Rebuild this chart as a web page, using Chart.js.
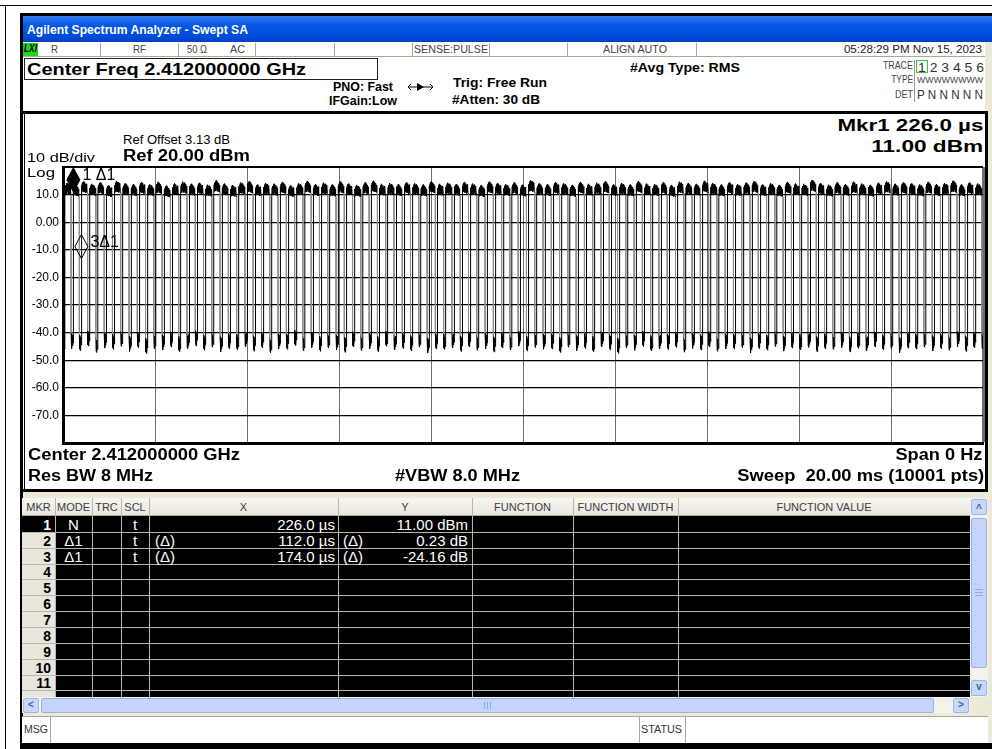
<!DOCTYPE html>
<html>
<head>
<meta charset="utf-8">
<title>Swept SA</title>
<script src="https://cdn.jsdelivr.net/npm/chart.js@4.4.1/dist/chart.umd.min.js"></script>
<style>
  body { margin: 0; width: 992px; height: 749px; position: relative; overflow: hidden; background: #fff; font-family: "Liberation Sans", Arial, sans-serif; }
  .box { position: absolute; box-sizing: border-box; }
  #plotWrap { position: absolute; left: 20px; top: 155px; width: 968px; height: 302px; }
</style>
</head>
<body>
<!-- outer frame and window -->
<div class="box" style="left:0;top:5px;width:992px;height:1px;background:#000"></div>
<div class="box" style="left:5px;top:5px;width:1px;height:744px;background:#000"></div>
<div class="box" style="left:20px;top:13px;width:972px;height:736px;background:#000"></div>
<div class="box" style="left:23px;top:42px;width:969px;height:701px;background:#ece9d8"></div>
<div class="box" style="left:23px;top:16px;width:969px;height:26px;background:linear-gradient(#3a7cf2,#0a5ae6 30%,#004ddb 75%,#0040c4)"></div>

<!-- status row -->
<div class="box" style="left:23px;top:42px;width:962px;height:15px;background:#fff;border-bottom:1px solid #aca899"></div>
<div class="box" style="left:23px;top:43px;width:15px;height:13px;background:#1fd81f"></div>

<!-- header -->
<div class="box" style="left:23px;top:57px;width:962px;height:54px;background:#fff"></div>
<div class="box" style="left:24px;top:58px;width:354px;height:22px;border:1px solid #222;background:#fff"></div>
<div class="box" style="left:916px;top:60px;width:12px;height:13px;border:1px solid #3cc63c"></div>
<div class="box" style="left:914px;top:60px;width:1px;height:42px;background:#999"></div>
<svg class="box" style="left:407px;top:82px" width="27" height="10" viewBox="0 0 27 10">
  <line x1="1" y1="5" x2="26" y2="5" stroke="#000" stroke-width="1"/>
  <polygon points="10,1 17,5 10,9" fill="#000"/>
  <polyline points="4,2 1,5 4,8" fill="none" stroke="#000"/>
  <polyline points="23,2 26,5 23,8" fill="none" stroke="#000"/>
</svg>

<!-- plot panel -->
<div class="box" style="left:22px;top:111px;width:966px;height:381px;border:3px solid #000;background:#fff"></div>
<div class="box" style="left:23px;top:114px;width:1px;height:375px;background:#fff"></div>
<div id="plotWrap"><canvas id="saChart" width="968" height="302"></canvas></div>

<script>
// ---- trace data (time in µs, level in dBm) ----
const xGridUs = [0, 2000, 4000, 6000, 8000, 10000, 12000, 14000, 16000, 18000, 20000];
const yTickValues = [20, 10, 0, -10, -20, -30, -40, -50, -60, -70, -80];
const yTickLabels = ['', '10.0', '0.00', '-10.0', '-20.0', '-30.0', '-40.0', '-50.0', '-60.0', '-70.0', ''];

// rising edge of each burst
const riseUs = [
  40, 220, 400, 580, 760, 940, 1120, 1300, 1480, 1660,
  1840, 2020, 2200, 2380, 2560, 2740, 2920, 3100, 3280, 3460,
  3640, 3820, 4000, 4180, 4360, 4540, 4720, 4900, 5080, 5260,
  5440, 5620, 5800, 5980, 6160, 6340, 6520, 6700, 6880, 7060,
  7240, 7420, 7600, 7780, 7960, 8140, 8320, 8500, 8680, 8860,
  9040, 9220, 9400, 9580, 9760, 9940, 10120, 10300, 10480, 10660,
  10840, 11020, 11200, 11380, 11560, 11740, 11920, 12100, 12280, 12460,
  12640, 12820, 13000, 13180, 13360, 13540, 13720, 13900, 14080, 14260,
  14440, 14620, 14800, 14980, 15160, 15340, 15520, 15700, 15880, 16060,
  16240, 16420, 16600, 16780, 16960, 17140, 17320, 17500, 17680, 17860,
  18040, 18220, 18400, 18580, 18760, 18940, 19120, 19300, 19480, 19660,
  19840
];
const burstWidthUs = 135;

// highest point of each burst
const peakDbm = [
  14.2, 13.6, 14.8, 13.9, 14.4, 13.4, 14.9, 14.0, 13.7, 14.5,
  13.8, 14.6, 13.3, 14.1, 14.7, 13.9, 14.3, 13.6, 15.1, 14.0,
  13.5, 14.4, 14.8, 13.7, 14.2, 13.9, 14.6, 13.4, 14.1, 14.9,
  13.8, 14.3, 13.6, 14.7, 14.0, 13.5, 14.4, 15.0, 13.9, 14.2,
  13.7, 14.5, 14.1, 13.6, 14.8, 13.9, 14.3, 13.8, 14.6, 14.0,
  13.4, 14.7, 14.2, 13.8, 14.4, 13.6, 15.2, 14.0, 13.7, 14.5,
  14.1, 13.5, 14.6, 13.9, 14.3, 14.8, 13.7, 14.2, 13.6, 14.9,
  14.0, 13.8, 14.4, 13.5, 14.7, 14.1, 13.9, 15.0, 14.2, 13.6,
  14.5, 13.8, 14.3, 14.9, 13.7, 14.1, 13.5, 14.6, 14.0, 13.9,
  15.3, 14.2, 13.6, 14.4, 13.8, 14.7, 14.0, 13.5, 14.3, 14.8,
  13.9, 14.5, 14.1, 13.7, 14.6, 13.8, 14.2, 15.0, 13.6, 14.4,
  14.0
];

// lowest point of the gap after each burst
const floorDbm = [
  -45.8, -46.5, -44.9, -47.2, -45.6, -46.1, -45.0, -46.8, -45.4, -47.6,
  -45.9, -46.3, -45.2, -46.9, -45.7, -44.8, -46.4, -45.3, -47.0, -45.8,
  -46.2, -45.1, -46.7, -45.5, -47.3, -45.9, -46.0, -44.7, -46.6, -45.4,
  -46.8, -45.6, -46.3, -47.1, -45.2, -46.5, -45.8, -46.9, -45.0, -46.2,
  -45.7, -46.6, -45.3, -47.4, -45.9, -46.1, -45.5, -46.8, -45.2, -46.4,
  -45.8, -47.0, -45.6, -46.3, -44.9, -46.7, -45.4, -46.0, -45.9, -47.2,
  -45.3, -46.5, -45.7, -46.9, -45.1, -46.2, -47.5, -45.6, -46.4, -45.0,
  -46.6, -45.8, -46.1, -45.4, -47.1, -45.7, -46.3, -45.2, -46.8, -45.9,
  -46.0, -45.5, -47.3, -45.8, -46.4, -45.1, -46.7, -45.6, -46.2, -45.3,
  -46.9, -45.9, -46.1, -45.4, -47.0, -45.7, -46.5, -45.2, -46.3, -45.8,
  -47.2, -45.6, -46.0, -45.3, -46.6, -45.9, -46.4, -45.1, -46.8, -45.5,
  -45.9
];

// typical ripple on top of a burst / in the gap (read from one burst)
const topShapeUs = [0, 6, 13, 20, 27, 34, 41, 48, 55, 62, 69, 76, 83, 90, 97, 104, 111, 118, 125, 135];
const topShapeDb = [-4.6, -1.5, -4.0, -0.8, -3.6, -0.3, -3.8, 0, -3.2, -0.6, -3.9, -0.4, -3.4, -1.1, -4.1, -0.9, -3.7, -1.6, -4.2, -4.4];
const gapShapeUs = [0, 6, 12, 18, 24, 30, 36, 42];
const gapShapeDb = [5.5, 0.5, 4.5, 0, 4.0, 1.0, 5.0, 2.0];

// markers drawn on the trace
const markerTimesUs = [226, 400];
const markerLevels = [11.00, -13.16];
const markerLabels = ['1 Δ1', '3Δ1'];
const markerFilled = [true, false];

// marker table
const tableRows = ['1', '2', '3', '4', '5', '6', '7', '8', '9', '10', '11'];
const tableModes = ['N', 'Δ1', 'Δ1'];
const tableScl = ['t', 't', 't'];
const tableXRef = ['', '(Δ)', '(Δ)'];
const tableXVals = ['226.0 µs', '112.0 µs', '174.0 µs'];
const tableYRef = ['', '(Δ)', '(Δ)'];
const tableYVals = ['11.00 dBm', '0.23 dB', '-24.16 dB'];
const tableHeads = ['MKR', 'MODE', 'TRC', 'SCL', 'X', 'Y', 'FUNCTION', 'FUNCTION WIDTH', 'FUNCTION VALUE'];

// ---- build the trace ----
const trace = [{ x: 0, y: -44.0 }, { x: 20, y: -46.2 }];
riseUs.forEach((r, i) => {
  trace.push({ x: r, y: trace[trace.length - 1].y });
  topShapeUs.forEach((dt, k) => trace.push({ x: r + dt, y: peakDbm[i] + topShapeDb[k] }));
  const f = r + burstWidthUs;
  gapShapeUs.forEach((dt, k) => {
    if (f + dt <= 20000) trace.push({ x: f + dt, y: floorDbm[i] + gapShapeDb[k] });
  });
});
trace.push({ x: 20000, y: trace[trace.length - 1].y });

const markerPlugin = {
  id: 'markers',
  afterDatasetsDraw(chart) {
    const { ctx, scales } = chart;
    ctx.save();
    markerTimesUs.forEach((t, i) => {
      const px = scales.x.getPixelForValue(t);
      const py = scales.y.getPixelForValue(markerLevels[i]);
      ctx.beginPath();
      ctx.moveTo(px, py);
      ctx.lineTo(px + 6.5, py - 12);
      ctx.lineTo(px, py - 24);
      ctx.lineTo(px - 6.5, py - 12);
      ctx.closePath();
      ctx.lineWidth = 1;
      ctx.strokeStyle = '#000';
      if (markerFilled[i]) { ctx.fillStyle = '#000'; ctx.fill(); }
      ctx.stroke();
      ctx.fillStyle = '#000';
      ctx.font = '16px "Liberation Sans", Arial, sans-serif';
      ctx.textBaseline = 'middle';
      ctx.fillText(markerLabels[i], px + 9, py - 16);
    });
    ctx.restore();
  }
};

new Chart(document.getElementById('saChart'), {
  type: 'line',
  data: {
    datasets: [{
      data: trace,
      borderColor: '#000',
      borderWidth: 1,
      pointRadius: 0,
      tension: 0,
      segment: {
        borderColor: c => (c.p0.parsed.x === c.p1.parsed.x && c.p1.parsed.y < c.p0.parsed.y) ? '#8c8c8c' : '#000'
      }
    }]
  },
  options: {
    responsive: false,
    animation: false,
    events: [],
    layout: { padding: { top: 12, right: 5, bottom: 14, left: 0 } },
    plugins: { legend: { display: false }, tooltip: { enabled: false } },
    scales: {
      x: {
        type: 'linear', min: 0, max: 20000,
        afterBuildTicks: s => { s.ticks = xGridUs.map(v => ({ value: v })); },
        afterFit: s => { s.height = 0; },
        ticks: { display: false },
        grid: { color: '#6e6e6e', lineWidth: c => (c.tick && c.tick.value === 20000 ? 3 : 1), drawTicks: false },
        border: { color: '#000', width: 3 }
      },
      y: {
        type: 'linear', min: -80, max: 20,
        afterBuildTicks: s => { s.ticks = yTickValues.map(v => ({ value: v })); },
        afterFit: s => { s.width = 43; },
        ticks: {
          padding: 4, color: '#000',
          font: { family: 'Liberation Sans', size: 12 },
          callback: v => yTickLabels[yTickValues.indexOf(v)]
        },
        grid: { color: '#000', lineWidth: c => (c.tick && c.tick.value === 20 ? 2 : 1.3), drawTicks: false },
        border: { color: '#000', width: 3 }
      }
    }
  },
  plugins: [markerPlugin]
});

// ---- screen furniture ----
function rect(l, t, w, h, css) {
  const d = document.createElement('div');
  d.className = 'box';
  d.style.cssText += `left:${l}px;top:${t}px;width:${w}px;height:${h}px;${css || ''}`;
  document.body.appendChild(d);
  return d;
}
function put(text, x, y, w, size, weight, align, color, extra) {
  const el = document.createElement('div');
  el.textContent = text;
  el.style.cssText = `position:absolute;white-space:nowrap;font:${weight} ${size}px "Liberation Sans",Arial,sans-serif;line-height:${size}px;top:${y - size / 2}px;color:${color};${extra || ''}`;
  document.body.appendChild(el);
  const nat = el.getBoundingClientRect().width;
  const k = w ? w / nat : 1;
  if (align === 'right') { el.style.left = (x - nat) + 'px'; el.style.transformOrigin = 'right center'; }
  else if (align === 'center') { el.style.left = (x - nat / 2) + 'px'; el.style.transformOrigin = 'center center'; }
  else { el.style.left = x + 'px'; el.style.transformOrigin = 'left center'; }
  el.style.transform = `scaleX(${k})`;
  return el;
}

// status row separators
[100, 178, 255, 334, 412, 489, 567, 696].forEach(x => {
  rect(x, 43, 1, 13, 'background:#aca899');
  rect(x + 1, 43, 1, 13, 'background:#fff');
});

// marker table
const colX = [22, 55, 92, 121, 149, 338, 472, 573, 678, 970];
const rowY0 = 516, rowH = 15.85;
rect(22, 498, 948, 18, 'background:linear-gradient(#f7f6f1,#e9e6dc);border-bottom:1px solid #aca899');
rect(22, 516, 948, 181, 'background:#000');
rect(22, 516 + rowH, 33, 181 - rowH, 'background:#e8e5dc');
for (let i = 1; i <= 11; i++) rect(22, Math.round(rowY0 + i * rowH), 948, 1, 'background:#b9b5a9');
colX.slice(1, 9).forEach(x => rect(x, 498, 1, 199, 'background:#b9b5a9'));
tableHeads.forEach((h, i) => put(h, (colX[i] + colX[i + 1]) / 2, 507, 0, 11, 'normal', 'center', '#3c3c3c'));
tableRows.forEach((n, i) => {
  const cy = rowY0 + i * rowH + rowH / 2 + 1;
  put(n, 51, cy, 0, 14, 'bold', 'right', i === 0 ? '#fff' : '#000');
  if (tableModes[i]) put(tableModes[i], 73.5, cy, 0, 15, 'normal', 'center', '#fff');
  if (tableScl[i]) put(tableScl[i], 135, cy, 0, 15, 'normal', 'center', '#fff');
  if (tableXRef[i]) put(tableXRef[i], 155, cy, 0, 15, 'normal', 'left', '#fff');
  if (tableXVals[i]) put(tableXVals[i], 335, cy, 0, 15, 'normal', 'right', '#fff');
  if (tableYRef[i]) put(tableYRef[i], 343, cy, 0, 15, 'normal', 'left', '#fff');
  if (tableYVals[i]) put(tableYVals[i], 468, cy, 0, 15, 'normal', 'right', '#fff');
});

// scrollbars
rect(970, 498, 18, 199, 'background:#f3f2ec');
rect(971, 499, 16, 16, 'background:#c6d8fc;border:1px solid #9db6ea;border-radius:2px');
rect(971, 518, 16, 150, 'background:#c3d5fc;border:1px solid #98b2ea;border-radius:2px');
rect(971, 680, 16, 16, 'background:#c6d8fc;border:1px solid #9db6ea;border-radius:2px');
[589, 592, 595].forEach(y => rect(975, y, 8, 1, 'background:#8fa8dc'));
rect(22, 697, 948, 16, 'background:#f3f2ec');
rect(23, 698, 16, 15, 'background:#c6d8fc;border:1px solid #9db6ea;border-radius:2px');
rect(41, 698, 893, 15, 'background:#c3d5fc;border:1px solid #98b2ea;border-radius:2px');
rect(953, 698, 16, 15, 'background:#c6d8fc;border:1px solid #9db6ea;border-radius:2px');
[484, 487, 490].forEach(x => rect(x, 702, 1, 7, 'background:#8fa8dc'));
put('^', 979, 509, 0, 10, 'bold', 'center', '#4d6185');
put('v', 979, 687, 0, 10, 'bold', 'center', '#4d6185');
put('<', 31, 705, 0, 10, 'bold', 'center', '#4d6185');
put('>', 961, 705, 0, 10, 'bold', 'center', '#4d6185');

// message bar
rect(22, 716, 966, 27, 'background:#fff;border-top:1px solid #aca899');
[50, 639, 685].forEach(x => rect(x, 716, 1, 27, 'background:#aca899'));
put('MSG', 24, 730, 24, 10, 'normal', 'left', '#333');
put('STATUS', 641, 730, 41, 10, 'normal', 'left', '#333');

// title and status row
put('Agilent Spectrum Analyzer - Swept SA', 27, 29, 221, 13, 'bold', 'left', '#fff');
put('LXI', 24, 49, 13, 10, 'bold', 'left', '#000', 'font-style:italic');
put('R', 51, 49, 7, 11, 'normal', 'left', '#444');
put('RF', 133, 49, 13, 11, 'normal', 'left', '#444');
put('50 Ω', 187, 49, 20, 11, 'normal', 'left', '#444');
put('AC', 230, 49, 15, 11, 'normal', 'left', '#444');
put('SENSE:PULSE', 414, 49, 74, 11, 'normal', 'left', '#444');
put('ALIGN AUTO', 603, 49, 64, 11, 'normal', 'left', '#444');
put('05:28:29 PM Nov 15, 2023', 982, 49, 138, 11, 'normal', 'right', '#222');

// header
put('Center Freq 2.412000000 GHz', 27, 69, 279, 17, 'bold', 'left', '#000');
put('PNO: Fast', 333, 87, 60, 12, 'bold', 'left', '#000');
put('IFGain:Low', 329, 101, 68, 12, 'bold', 'left', '#000');
put('Trig: Free Run', 453, 82, 94, 13, 'bold', 'left', '#000');
put('#Atten: 30 dB', 452, 99, 88, 13, 'bold', 'left', '#000');
put('#Avg Type: RMS', 630, 67, 110, 13, 'bold', 'left', '#000');
put('TRACE', 913, 66, 30, 10, 'normal', 'right', '#444');
put('TYPE', 913, 80, 22, 10, 'normal', 'right', '#444');
put('DET', 913, 95, 18, 10, 'normal', 'right', '#444');
put('1 2 3 4 5 6', 918, 67, 66, 13, 'normal', 'left', '#333');
put('WWWWWWWW', 917, 80, 66, 9, 'normal', 'left', '#444');
put('P N N N N N', 917, 95, 66, 12, 'normal', 'left', '#333');

// panel annotations
put('Ref Offset 3.13 dB', 123, 139, 107, 13, 'normal', 'left', '#000');
put('Ref 20.00 dBm', 123, 156, 127, 16, 'bold', 'left', '#000');
put('10 dB/div', 27, 157, 68, 13, 'normal', 'left', '#000');
put('Log', 27, 172, 28, 13, 'normal', 'left', '#000');
put('Mkr1 226.0 µs', 983, 126, 146, 16, 'bold', 'right', '#000');
put('11.00 dBm', 983, 147, 112, 16, 'bold', 'right', '#000');
put('Center 2.412000000 GHz', 28, 455, 212, 16, 'bold', 'left', '#000');
put('Span 0 Hz', 982, 455, 87, 16, 'bold', 'right', '#000');
put('Res BW 8 MHz', 28, 476, 125, 16, 'bold', 'left', '#000');
put('#VBW 8.0 MHz', 395, 476, 125, 16, 'bold', 'left', '#000');
put('Sweep  20.00 ms (10001 pts)', 984, 476, 247, 16, 'bold', 'right', '#000', 'white-space:pre');
</script>
</body>
</html>
